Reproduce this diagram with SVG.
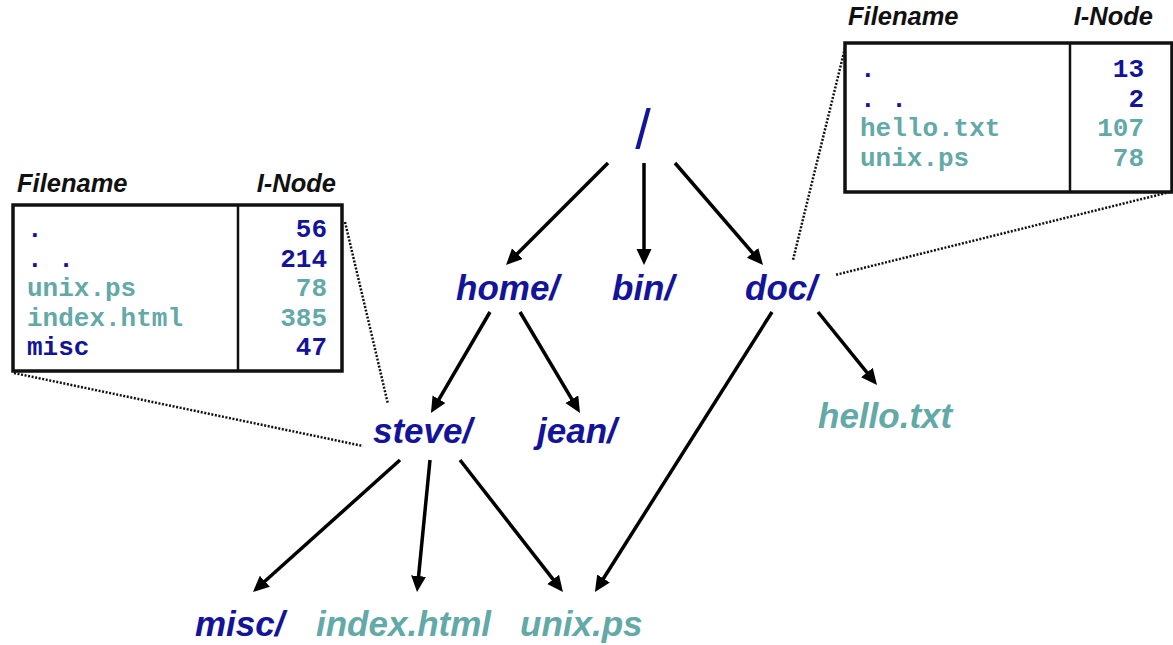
<svg xmlns="http://www.w3.org/2000/svg" width="1173" height="645" viewBox="0 0 1173 645">
<style>
.node{font-family:"Liberation Sans",Arial,sans-serif;font-weight:bold;font-style:italic;font-size:35px}
.dir{fill:#14149a}
.file{fill:#62a9a7}
.hdr{font-family:"Liberation Sans",Arial,sans-serif;font-weight:bold;font-style:italic;font-size:25.5px;fill:#111}
.mono{font-family:"Liberation Mono","Courier New",monospace;font-weight:bold;font-size:26px}
.num{text-anchor:end}
.box{fill:#fff;stroke:#111;stroke-width:3.5}
.div{stroke:#111;stroke-width:2.5}
.arrow{stroke:#000;stroke-width:3.5;fill:none;marker-end:url(#ah)}
.dot{stroke:#111;stroke-width:2.5;stroke-dasharray:2 1.6;fill:none}
</style>
<defs>
<marker id="ah" markerUnits="userSpaceOnUse" markerWidth="20" markerHeight="18" refX="6" refY="7.5" orient="auto">
<path d="M0,0 L16,7.5 L0,15 z" fill="#000"/>
</marker>
</defs>
<rect width="1173" height="645" fill="#fff"/>
<g id="connectors">
<line class="arrow" x1="608" y1="163" x2="513.1" y2="257.9"/>
<line class="arrow" x1="644" y1="163" x2="644" y2="255"/>
<line class="arrow" x1="675" y1="163" x2="756.5" y2="257.4"/>
<line class="arrow" x1="490" y1="312" x2="436" y2="404.4"/>
<line class="arrow" x1="520" y1="312" x2="574.9" y2="404.4"/>
<line class="arrow" x1="818" y1="312" x2="870.7" y2="377.2"/>
<line class="arrow" x1="772" y1="312" x2="600.3" y2="583.5"/>
<line class="arrow" x1="400" y1="460" x2="260.4" y2="585.3"/>
<line class="arrow" x1="430" y1="460" x2="418" y2="582"/>
<line class="arrow" x1="460" y1="460" x2="556.8" y2="584.1"/>
<line class="dot" x1="345" y1="222" x2="388" y2="404"/>
<line class="dot" x1="14" y1="373" x2="363" y2="446"/>
<line class="dot" x1="845" y1="48" x2="793" y2="260"/>
<line class="dot" x1="1170" y1="192" x2="835" y2="275"/>
</g>
<g id="root"><text x="643" y="148" text-anchor="middle" font-family="Liberation Sans, Arial, sans-serif" font-size="56" fill="#14149a">/</text></g>
<g id="home"><text class="node dir" x="456" y="300">home/</text></g>
<g id="bin"><text class="node dir" x="612" y="300">bin/</text></g>
<g id="doc"><text class="node dir" x="745" y="300">doc/</text></g>
<g id="steve"><text class="node dir" x="373" y="443">steve/</text></g>
<g id="jean"><text class="node dir" x="537" y="443">jean/</text></g>
<g id="hello"><text class="node file" x="818" y="428">hello.txt</text></g>
<g id="misc"><text class="node dir" x="195" y="636">misc/</text></g>
<g id="index"><text class="node file" x="316" y="636">index.html</text></g>
<g id="unix"><text class="node file" x="520" y="636">unix.ps</text></g>
<g id="table-steve">
<text class="hdr" x="17" y="192">Filename</text>
<text class="hdr" x="336" y="192" text-anchor="end">I-Node</text>
<rect class="box" x="13" y="205" width="329" height="166"/>
<line class="div" x1="238" y1="205" x2="238" y2="371"/>
<text class="mono dir" x="27" y="237">.</text>
<text class="mono dir" x="27" y="266.5">. .</text>
<text class="mono file" x="27" y="296">unix.ps</text>
<text class="mono file" x="27" y="325.5">index.html</text>
<text class="mono dir" x="27" y="355">misc</text>
<text class="mono dir num" x="327" y="237">56</text>
<text class="mono dir num" x="327" y="266.5">214</text>
<text class="mono file num" x="327" y="296">78</text>
<text class="mono file num" x="327" y="325.5">385</text>
<text class="mono dir num" x="327" y="355">47</text>
</g>
<g id="table-doc">
<text class="hdr" x="848" y="25">Filename</text>
<text class="hdr" x="1153" y="25" text-anchor="end">I-Node</text>
<rect class="box" x="845" y="43" width="327" height="149"/>
<line class="div" x1="1070" y1="43" x2="1070" y2="192"/>
<text class="mono dir" x="860" y="77">.</text>
<text class="mono dir" x="860" y="106.5">. .</text>
<text class="mono file" x="860" y="136">hello.txt</text>
<text class="mono file" x="860" y="165.5">unix.ps</text>
<text class="mono dir num" x="1144" y="77">13</text>
<text class="mono dir num" x="1144" y="106.5">2</text>
<text class="mono file num" x="1144" y="136">107</text>
<text class="mono file num" x="1144" y="165.5">78</text>
</g>
</svg>
